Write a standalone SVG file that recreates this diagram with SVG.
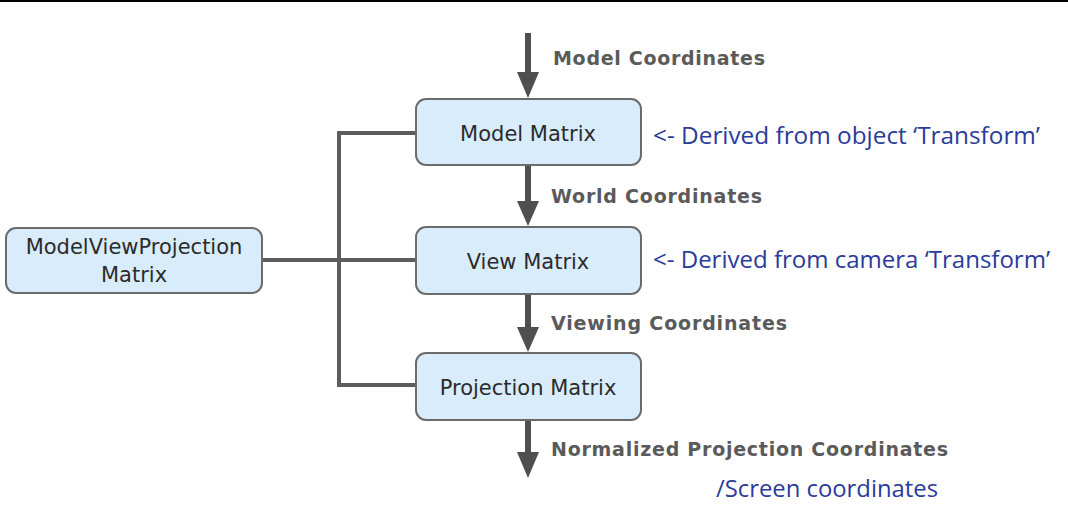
<svg xmlns="http://www.w3.org/2000/svg" width="1068" height="531" viewBox="0 0 1068 531">
<defs>
<style>
.box{fill:#d9ecfb;stroke:#6b6b6b;stroke-width:2}
.bt{font-family:"DejaVu Sans",sans-serif;font-size:21px;fill:#2b2b2b;text-anchor:middle}
.lbl{font-family:"DejaVu Sans",sans-serif;font-weight:bold;font-size:19px;fill:#5a5a5a}
.note{font-family:"Open Sans","Noto Sans",sans-serif;font-size:24px;fill:#2b3b99}
.wire{fill:none;stroke:#5c5c5c;stroke-width:4}
.shaft{stroke:#4f4f4f;stroke-width:6;fill:none}
.head{fill:#4f4f4f}
</style>
</defs>
<rect x="0" y="0" width="1068" height="531" fill="#ffffff"/>
<line x1="0" y1="1" x2="1068" y2="1" stroke="#000" stroke-width="2"/>
<g id="connectors">
<path class="wire" d="M262 260 H416 M416 133 H339 V385 H416"/>
<line class="shaft" x1="528" y1="33" x2="528" y2="75"/>
<polygon class="head" points="517,72 539,72 528,98"/>
<line class="shaft" x1="528" y1="165" x2="528" y2="204"/>
<polygon class="head" points="517,201 539,201 528,226"/>
<line class="shaft" x1="528" y1="294" x2="528" y2="330"/>
<polygon class="head" points="517,327 539,327 528,352"/>
<line class="shaft" x1="528" y1="420" x2="528" y2="455"/>
<polygon class="head" points="517,452 539,452 528,478"/>
</g>
<g id="label-model-coords"><text class="lbl" x="553" y="65" textLength="212">Model Coordinates</text></g>
<g id="label-world-coords"><text class="lbl" x="551" y="203" textLength="211">World Coordinates</text></g>
<g id="label-viewing-coords"><text class="lbl" x="551" y="330" textLength="236">Viewing Coordinates</text></g>
<g id="label-ndc"><text class="lbl" x="551" y="456" textLength="397">Normalized Projection Coordinates</text></g>
<g id="node-model">
<rect class="box" x="416" y="99" width="225" height="66" rx="10"/>
<text class="bt" x="528" y="141">Model Matrix</text>
</g>
<g id="node-view">
<rect class="box" x="416" y="227" width="225" height="67" rx="10"/>
<text class="bt" x="528" y="269">View Matrix</text>
</g>
<g id="node-projection">
<rect class="box" x="416" y="353" width="225" height="67" rx="10"/>
<text class="bt" x="528" y="395">Projection Matrix</text>
</g>
<g id="node-mvp">
<rect class="box" x="6" y="228" width="256" height="65" rx="10"/>
<text class="bt" x="134" y="254">ModelViewProjection</text>
<text class="bt" x="134" y="282">Matrix</text>
</g>
<g id="note-object"><text class="note" x="653" y="144" textLength="387" lengthAdjust="spacingAndGlyphs">&lt;- Derived from object ‘Transform’</text></g>
<g id="note-camera"><text class="note" x="653" y="268" textLength="397" lengthAdjust="spacingAndGlyphs">&lt;- Derived from camera ‘Transform’</text></g>
<g id="note-screen"><text class="note" x="716" y="497" textLength="222" lengthAdjust="spacingAndGlyphs">/Screen coordinates</text></g>
</svg>
